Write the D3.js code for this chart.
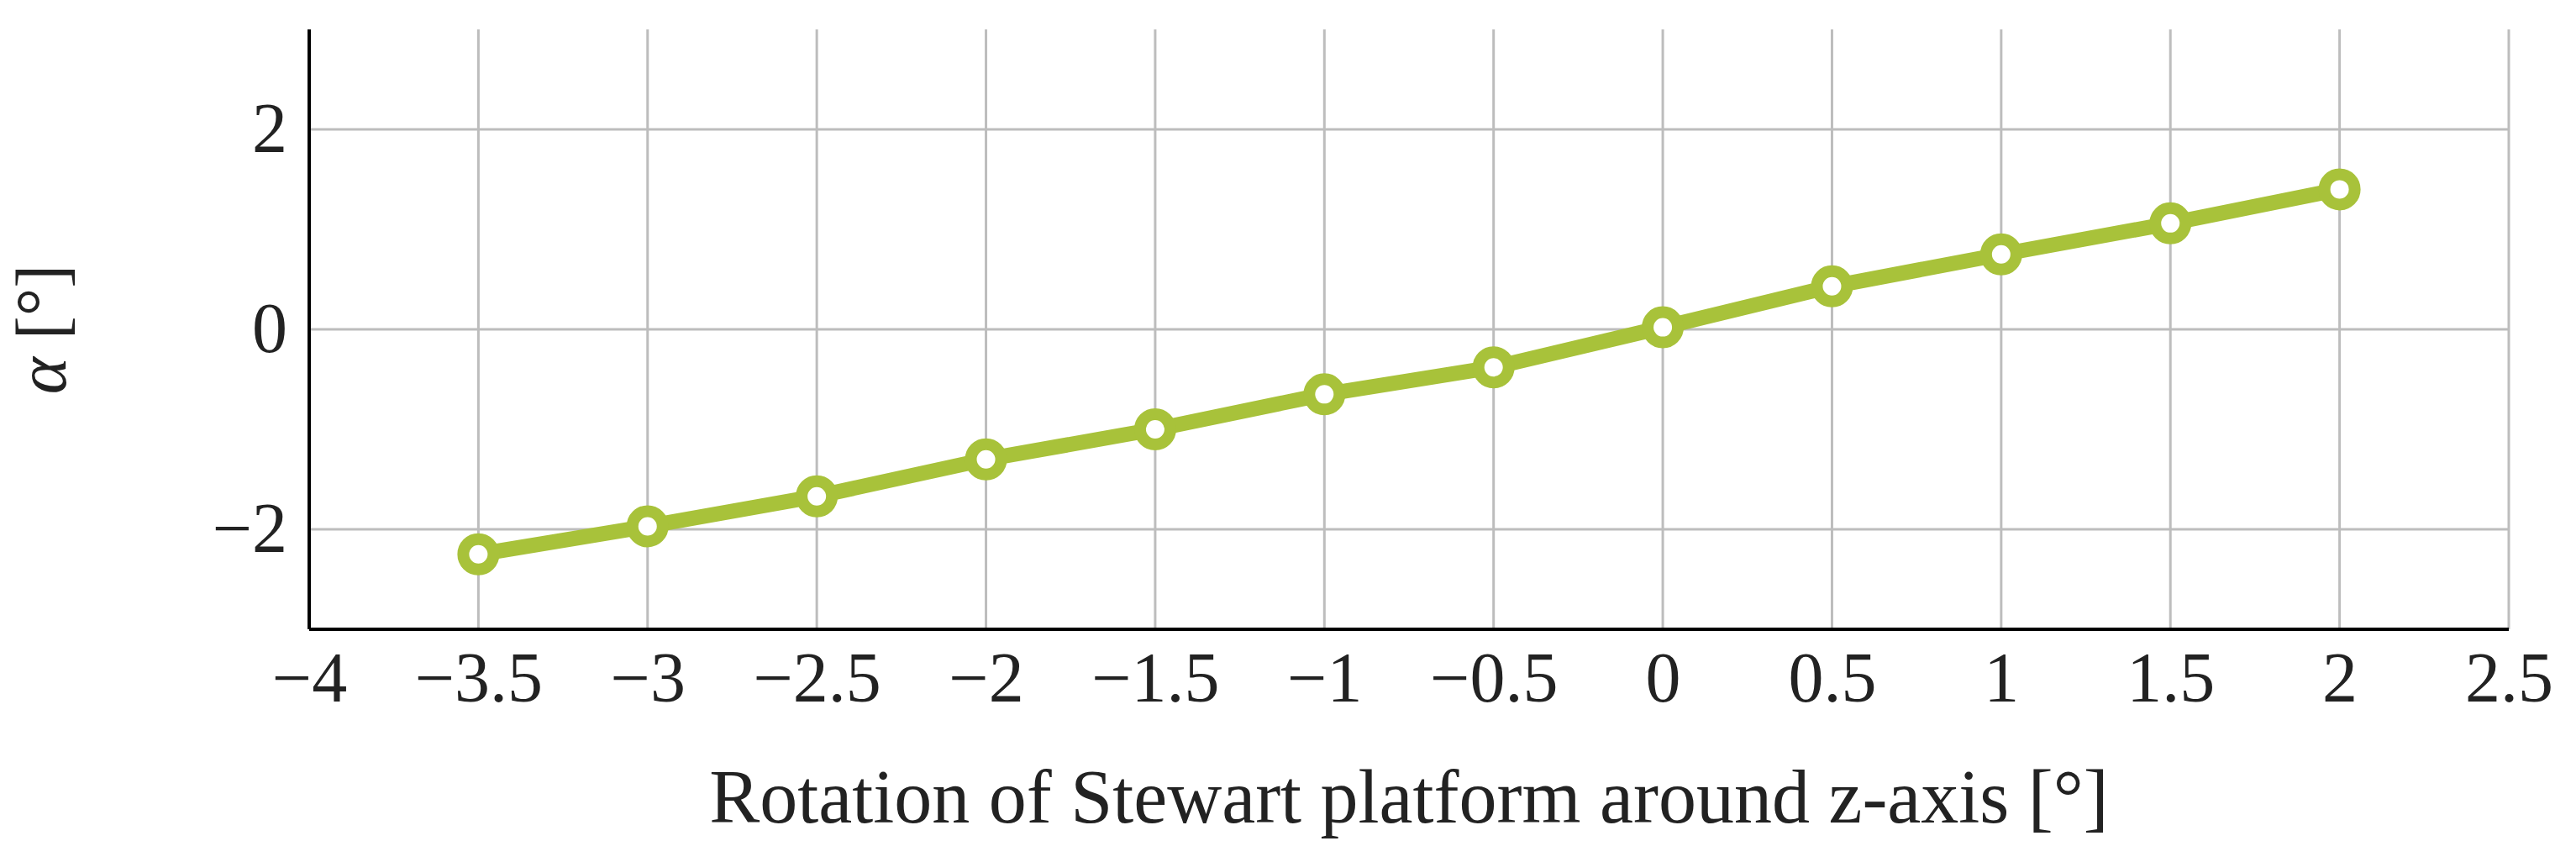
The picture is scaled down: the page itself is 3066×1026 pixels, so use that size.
<!DOCTYPE html>
<html><head><meta charset="utf-8">
<script src="https://cdn.jsdelivr.net/npm/d3@7"></script>
<style>body{margin:0;background:#fff}text{font-family:"Liberation Serif","DejaVu Serif",serif;fill:#222}</style>
</head><body><svg id="chart"></svg>
<script>
const rotation = [-3.5, -3, -2.5, -2, -1.5, -1, -0.5, 0, 0.5, 1, 1.5, 2];
const alpha = [-2.25, -1.97, -1.67, -1.3, -1.0, -0.65, -0.38, 0.02, 0.43, 0.75, 1.06, 1.4];
const xTicks = [-4, -3.5, -3, -2.5, -2, -1.5, -1, -0.5, 0, 0.5, 1, 1.5, 2, 2.5];
const yTicks = [-2, 0, 2];

const W = 3066, H = 1026;
const margin = { top: 35, right: 80, bottom: 277, left: 368 };
const width = W - margin.left - margin.right;
const height = H - margin.top - margin.bottom;
const color = "#a8c23a";

const svg = d3.select("#chart").attr("width", W).attr("height", H)
  .append("g").attr("transform", `translate(${margin.left},${margin.top})`);

const x = d3.scaleLinear().domain([-4, 2.5]).range([0, width]);
const y = d3.scaleLinear().domain([-3, 3]).range([height, 0]);
const fmt = d => String(d).replace("-", "\u2212");

// grid
svg.selectAll(".gx").data(xTicks.slice(1)).enter().append("line")
  .attr("x1", d => x(d)).attr("x2", d => x(d)).attr("y1", 0).attr("y2", height)
  .attr("stroke", "#bdbdbd").attr("stroke-width", 3);
svg.selectAll(".gy").data(yTicks).enter().append("line")
  .attr("x1", 0).attr("x2", width).attr("y1", d => y(d)).attr("y2", d => y(d))
  .attr("stroke", "#bdbdbd").attr("stroke-width", 3);

const xAxis = svg.append("g").attr("transform", `translate(0,${height})`)
  .call(d3.axisBottom(x).tickValues(xTicks).tickFormat(fmt).tickSize(0).tickPadding(26));
const yAxis = svg.append("g")
  .call(d3.axisLeft(y).tickValues(yTicks).tickFormat(fmt).tickSize(0).tickPadding(26));
[xAxis, yAxis].forEach(a => {
  a.select(".domain").attr("stroke", "#000").attr("stroke-width", 4);
  a.selectAll("text").style("font-size", "84px").attr("fill", "#222");
});
xAxis.select(".domain").attr("d", `M0,0H${width}`);
yAxis.select(".domain").attr("d", `M0,${height}V0`);

const pts = rotation.map((r, i) => ({ r, a: alpha[i] }));
svg.append("path").datum(pts).attr("fill", "none").attr("stroke", color)
  .attr("stroke-width", 18).attr("stroke-linejoin", "round")
  .attr("d", d3.line().x(d => x(d.r)).y(d => y(d.a)));
svg.selectAll(".pt").data(pts).enter().append("circle")
  .attr("cx", d => x(d.r)).attr("cy", d => y(d.a)).attr("r", 18)
  .attr("fill", "#fff").attr("stroke", color).attr("stroke-width", 14);

svg.append("text").attr("x", width / 2).attr("y", height + 230)
  .attr("text-anchor", "middle").style("font-size", "90px")
  .text("Rotation of Stewart platform around z-axis [°]");
svg.append("text").attr("transform", `translate(${-290},${height / 2}) rotate(-90)`)
  .attr("text-anchor", "middle").style("font-size", "84px")
  .html('<tspan font-style="italic">α</tspan> [°]');
</script></body></html>
